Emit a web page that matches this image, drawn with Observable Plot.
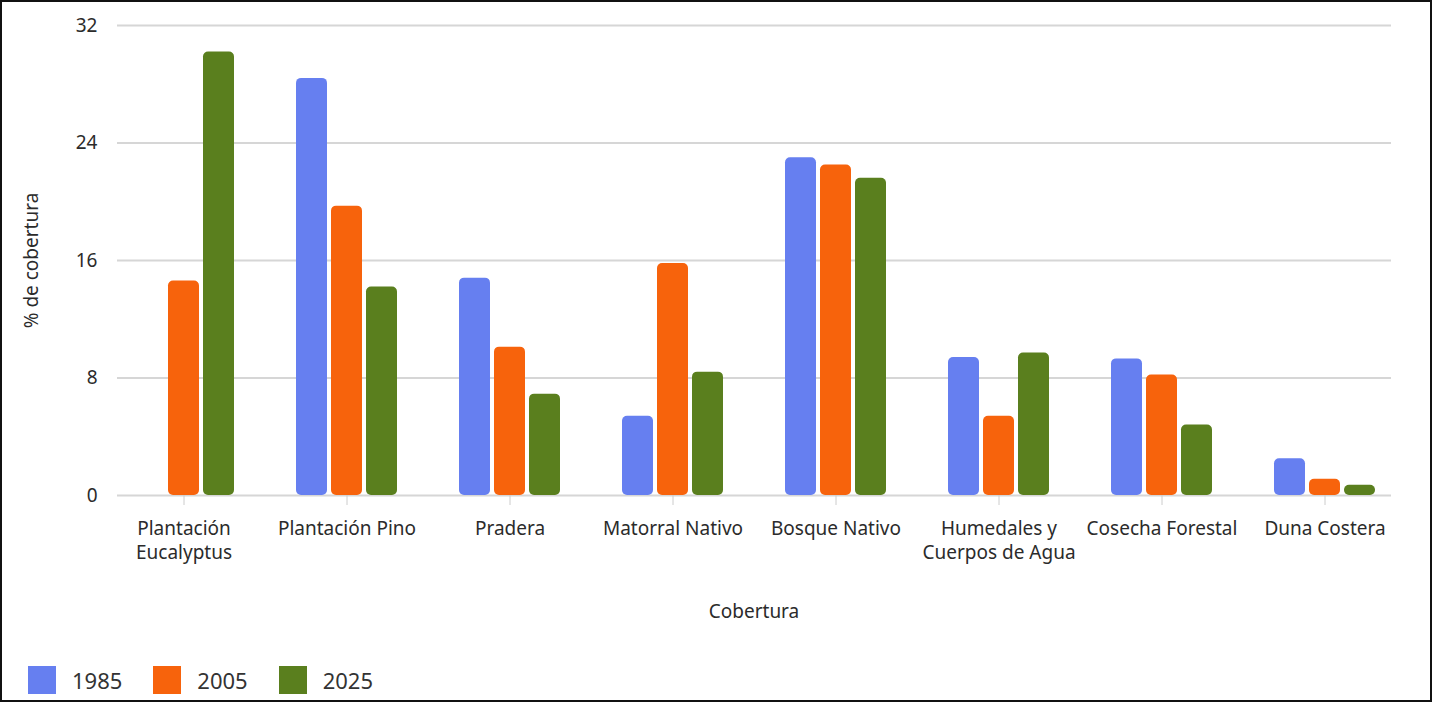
<!DOCTYPE html>
<html>
<head>
<meta charset="utf-8">
<script src="https://cdn.jsdelivr.net/npm/d3@7"></script>
<script src="https://cdn.jsdelivr.net/npm/@observablehq/plot@0.6"></script>
<style>
  html, body { margin: 0; padding: 0; background: #fff; }
  #frame { position: relative; width: 1432px; height: 702px; overflow: hidden;
           font-family: "Noto Sans", sans-serif; color: #333; }
  #chart { position: absolute; left: 0; top: 0; }
  #border { position: absolute; inset: 0; border: 2px solid #111; pointer-events: none; }
  #legend { position: absolute; left: 28px; top: 666px; display: flex; align-items: center; }
  .sw { width: 28px; height: 28px; margin-right: 16px; }
  .lab { font-size: 22px; line-height: 28px; margin-right: 31px; color: #333; }
</style>
</head>
<body>
<div id="frame">
  <div id="chart"></div>
  <div id="legend"></div>
  <div id="border"></div>
</div>
<script>
// Land cover categories and their axis labels
const categories = ["Plantación Eucalyptus", "Plantación Pino", "Pradera", "Matorral Nativo",
                    "Bosque Nativo", "Humedales y Cuerpos de Agua", "Cosecha Forestal", "Duna Costera"];
const categoryLabels = ["Plantación\nEucalyptus", "Plantación Pino", "Pradera", "Matorral Nativo",
                        "Bosque Nativo", "Humedales y\nCuerpos de Agua", "Cosecha Forestal", "Duna Costera"];

// Survey years and their colours
const years = ["1985", "2005", "2025"];
const colors = ["#667ff0", "#f7630c", "#5a7f1e"];

// % of cover per category, one list per year
const cover1985 = [0, 28.4, 14.8, 5.4, 23.0, 9.4, 9.3, 2.5];
const cover2005 = [14.6, 19.7, 10.1, 15.8, 22.5, 5.4, 8.2, 1.1];
const cover2025 = [30.2, 14.2, 6.9, 8.4, 21.6, 9.7, 4.8, 0.7];

const yTicks = [0, 8, 16, 24, 32];

const series = [cover1985, cover2005, cover2025];
const labelOf = new Map(categories.map((c, i) => [c, categoryLabels[i]]));

// Each category band holds three bars side by side: bar width plus gap
const barSlot = 35;

const yearBars = years.map((yr, j) =>
  Plot.barY(
    categories.map((c, i) => ({category: c, year: yr, value: series[j][i]})),
    {x: "category", y: "value", fill: "year", rx: 5,
     insetLeft: j * barSlot, insetRight: (years.length - 1 - j) * barSlot}
  )
);

const chart = Plot.plot({
  width: 1432,
  height: 640,
  marginLeft: 101,
  marginRight: 26,
  marginTop: 25,
  marginBottom: 145,
  style: {fontFamily: '"Noto Sans", sans-serif', fontSize: "19px", color: "#2b2b2b", background: "transparent"},
  x: {domain: categories, paddingInner: 0.383, paddingOuter: 0.19},
  y: {domain: [0, 32]},
  color: {domain: years, range: colors},
  marks: [
    Plot.ruleY(yTicks, {stroke: "#d6d6d6", strokeWidth: 2, insetLeft: 16, insetRight: 15}),
    ...yearBars,
    Plot.axisY({ticks: yTicks, tickSize: 0, tickPadding: 4, fontSize: 19,
                label: "% de cobertura", labelArrow: "none", labelAnchor: "center", labelOffset: 77}),
    Plot.axisX({tickSize: 10, tickPadding: 12, stroke: "#cccccc", fill: "#2b2b2b",
                lineHeight: 1.27, fontSize: 19,
                tickFormat: d => labelOf.get(d),
                label: "Cobertura", labelArrow: "none", labelAnchor: "center", labelOffset: 122})
  ]
});
document.getElementById("chart").appendChild(chart);

// Legend below the chart
const legend = document.getElementById("legend");
years.forEach((yr, j) => {
  const sw = document.createElement("div");
  sw.className = "sw";
  sw.style.background = colors[j];
  const lab = document.createElement("div");
  lab.className = "lab";
  lab.textContent = yr;
  legend.appendChild(sw);
  legend.appendChild(lab);
});
</script>
</body>
</html>
